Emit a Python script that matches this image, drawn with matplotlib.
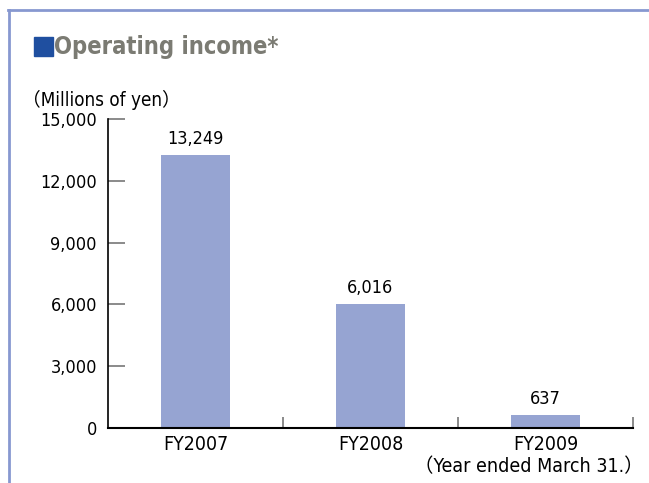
import matplotlib.pyplot as plt
from matplotlib.lines import Line2D
from matplotlib.patches import Rectangle

categories = ['FY2007', 'FY2008', 'FY2009']
income = [13249, 6016, 637]
yticks = [0, 3000, 6000, 9000, 12000, 15000]

plt.rcParams['font.family'] = ['DejaVu Sans', 'Noto Sans CJK JP']
plt.rcParams['font.stretch'] = 'condensed'

fig = plt.figure(figsize=(6.49, 4.83), dpi=100)
ax = fig.add_axes([108 / 649, 1 - 428 / 483, 525 / 649, 309 / 483])

x = range(len(categories))
ax.bar(x, income, width=0.39, color='#96a4d2')
for xi, v in zip(x, income):
    ax.text(xi, v + 350, f'{v:,}', ha='center', va='bottom', fontsize=13)

ax.set_xlim(-0.5, 2.5)
ax.set_ylim(0, 15000)
ax.set_yticks(yticks)
ax.set_yticklabels([f'{t:,}' for t in yticks], fontsize=13)
ax.tick_params(axis='y', direction='in', length=12, width=1.2,
               color='#777777', pad=8)
ax.set_xticks([0.5, 1.5, 2.5])
ax.set_xticklabels([])
ax.tick_params(axis='x', direction='in', length=8, width=1.2, color='#777777')
for xi, c in zip(x, categories):
    ax.text(xi, -330, c, ha='center', va='top', fontsize=14)

for s in ['top', 'right']:
    ax.spines[s].set_visible(False)
ax.spines['left'].set_linewidth(1.2)
ax.spines['bottom'].set_linewidth(1.5)

# frame and header
fig.add_artist(Line2D([8 / 649, 1], [1 - 10 / 483] * 2, color='#8798d0', lw=2))
fig.add_artist(Line2D([9 / 649] * 2, [0, 1 - 10 / 483], color='#8798d0', lw=2))
fig.add_artist(Rectangle((34 / 649, 1 - 56 / 483), 19 / 649, 19 / 483,
                         color='#1f4fa0', transform=fig.transFigure))
fig.text(54 / 649, 1 - 47 / 483, 'Operating income*', fontsize=17,
         fontweight='bold', color='#7b7b73', va='center')
fig.text(22 / 649, 1 - 100 / 483, '（Millions of yen）', fontsize=13.5,
         va='center')
fig.text(644 / 649, 1 - 467 / 483, '（Year ended March 31.）', fontsize=14,
         va='center', ha='right')

plt.savefig('out.png', dpi=100)
